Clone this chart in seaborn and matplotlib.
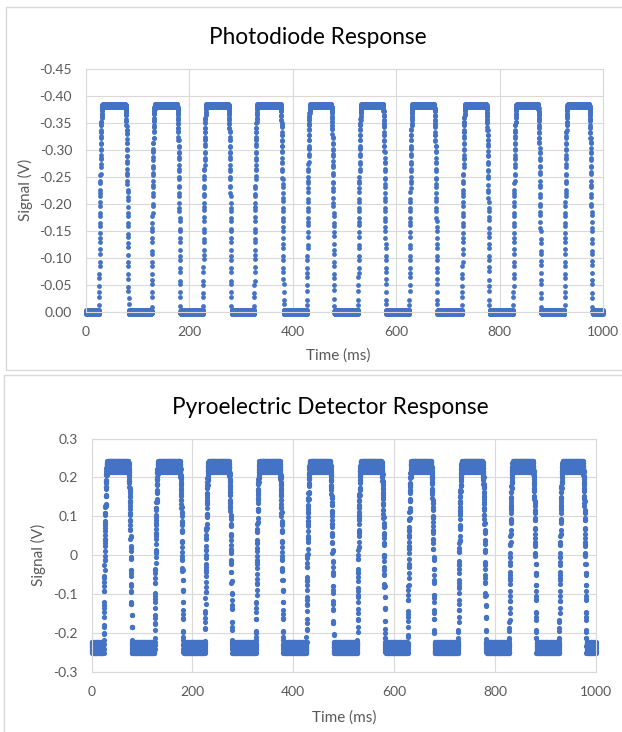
import numpy as np
import pandas as pd
import seaborn as sns
import matplotlib.pyplot as plt
from matplotlib.patches import Rectangle
from matplotlib.ticker import FuncFormatter

# edge times (ms), levels in volts
pd_rise = [25.5, 127.0, 226.5, 325.5, 427.5, 526.5, 625.5, 727.5, 826.5, 925.5]
pd_fall = [76.5, 176.5, 275.5, 376.5, 474.5, 574.5, 673.5, 774.5, 874.5, 973.5]
pd_low = 0.000
pd_high = -0.382
pd_ripple = [0.002, -0.001, 0.003, -0.002, 0.000, -0.003, 0.001, 0.002, -0.002]

py_rise = [24.0, 125.0, 225.0, 326.0, 426.0, 527.0, 627.0, 727.0, 828.0, 927.0]
py_fall = [73.0, 175.0, 272.0, 373.0, 473.0, 575.0, 673.0, 775.0, 875.0, 974.0]
py_low = -0.237
py_high = 0.229
py_ripple = [0.011, -0.004, 0.006, -0.012, 0.002, 0.013, -0.008, 0.004, -0.014, 0.009,
             -0.002, 0.012, -0.010, 0.001, -0.006, 0.014, -0.011, 0.007, -0.003, 0.010,
             -0.013, 0.005]

BLUE = "#4472C4"
GRID = "#d9d9d9"
TXT = "#595959"


def trace(t, rises, falls, lo, hi, edge_ms, ripple):
    # fast away from the low level, slow near the high level (rounded top corners)
    frac = np.zeros_like(t)
    for r, f in zip(rises, falls):
        up = np.clip((t - r) / edge_ms, 0, 1)
        dn = np.clip((t - f) / edge_ms, 0, 1)
        frac += (1 - (1 - up) ** 2) - dn ** 2
    return lo + (hi - lo) * frac + np.resize(ripple, t.size)


t = np.arange(0, 1000.05, 0.1)
df_pd = pd.DataFrame({"Time": t, "Signal": trace(t, pd_rise, pd_fall, pd_low, pd_high, 6.0, pd_ripple)})
df_py = pd.DataFrame({"Time": t, "Signal": trace(t, py_rise, py_fall, py_low, py_high, 7.0, py_ripple)})

sns.set_theme(style="white")
plt.rcParams["font.family"] = ["Lato", "DejaVu Sans"]
plt.rcParams["axes.unicode_minus"] = False

fig = plt.figure(figsize=(6.22, 7.32), dpi=100)
W, H = 622, 732

# chart area borders
fig.patches.append(Rectangle((6 / W, 1 - 370 / H), 1.2, 363 / H, transform=fig.transFigure,
                             fill=False, edgecolor=GRID, lw=1))
fig.patches.append(Rectangle((4 / W, -0.1), 1.2, (732 - 375) / H + 0.1, transform=fig.transFigure,
                             fill=False, edgecolor=GRID, lw=1))


def style(ax):
    ax.set_xlim(0, 1000)
    ax.set_xticks(range(0, 1001, 200))
    ax.grid(True, color=GRID, lw=0.8)
    ax.set_axisbelow(True)
    for s in ax.spines.values():
        s.set_color(GRID)
        s.set_linewidth(0.8)
    ax.tick_params(length=0, labelsize=10, labelcolor=TXT, pad=10)
    ax.set_xlabel("")
    ax.set_ylabel("")
    for c in ax.collections:
        c.set_clip_on(False)


ax1 = fig.add_axes([86 / W, 1 - 312 / H, 517 / W, 243 / H])
sns.scatterplot(data=df_pd, x="Time", y="Signal", ax=ax1, s=12, color=BLUE, linewidth=0)
ax1.set_ylim(0.0, -0.45)
ax1.set_yticks(np.round(np.arange(0, -0.451, -0.05), 2))
ax1.yaxis.set_major_formatter(FuncFormatter(lambda v, p: f"{v:.2f}".replace("-0.00", "0.00")))
style(ax1)

ax2 = fig.add_axes([91.5 / W, 1 - 672 / H, 504.5 / W, 233.5 / H])
sns.scatterplot(data=df_py, x="Time", y="Signal", ax=ax2, s=14, color=BLUE, linewidth=0)
ax2.set_ylim(-0.3, 0.3)
ax2.set_yticks(np.round(np.arange(-0.3, 0.301, 0.1), 1))
ax2.yaxis.set_major_formatter(FuncFormatter(lambda v, p: "0" if abs(v) < 1e-9 else f"{v:.1f}"))
style(ax2)

fig.text(318 / W, 1 - 38 / H, "Photodiode Response", ha="center", va="center", fontsize=16.3, color="black")
fig.text(330 / W, 1 - 408 / H, "Pyroelectric Detector Response", ha="center", va="center", fontsize=16.3, color="black")
fig.text(25 / W, 1 - 190 / H, "Signal (V)", rotation=90, ha="center", va="center", fontsize=11, color=TXT)
fig.text(338 / W, 1 - 356 / H, "Time (ms)", ha="center", va="center", fontsize=11, color=TXT)
fig.text(38 / W, 1 - 555 / H, "Signal (V)", rotation=90, ha="center", va="center", fontsize=11, color=TXT)
fig.text(344 / W, 1 - 718 / H, "Time (ms)", ha="center", va="center", fontsize=11, color=TXT)

fig.savefig("out.png", dpi=100)
